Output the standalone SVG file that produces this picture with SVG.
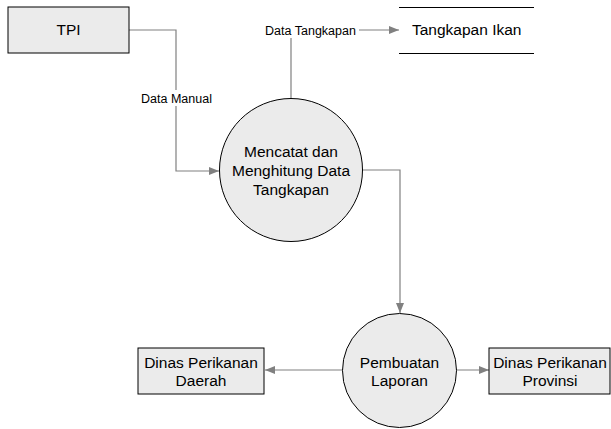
<svg xmlns="http://www.w3.org/2000/svg" width="611" height="429" viewBox="0 0 611 429">
<style>
.n{fill:#ebebeb;stroke:#000;stroke-width:1}
.t{font-family:"Liberation Sans",Arial,sans-serif;font-size:15.5px;fill:#000;text-anchor:middle}
.l{font-family:"Liberation Sans",Arial,sans-serif;font-size:12.5px;fill:#000;text-anchor:middle}
.c{fill:none;stroke:#808080;stroke-width:1.2}
.s{stroke:#000;stroke-width:1}
</style>
<defs>
<marker id="ah" viewBox="0 0 10 8" refX="10" refY="4" markerWidth="10" markerHeight="8" markerUnits="userSpaceOnUse" orient="auto">
<path d="M0,0 L10,4 L0,8 Z" fill="#808080"/>
</marker>
</defs>
<rect width="611" height="429" fill="#fff"/>
<g id="connectors">
<path class="c" d="M129,30 H176 V171 H219" marker-end="url(#ah)"/>
<rect x="139" y="90" width="75" height="16" fill="#fff"/>
<text class="l" x="176.5" y="102.5">Data Manual</text>
<path class="c" d="M291,98 V30 H399" marker-end="url(#ah)"/>
<rect x="262" y="22" width="97" height="16" fill="#fff"/>
<text class="l" x="310.5" y="34.5">Data Tangkapan</text>
<path class="c" d="M362,170 H400 V313" marker-end="url(#ah)"/>
<path class="c" d="M343,370 H265" marker-end="url(#ah)"/>
<path class="c" d="M456,370 H489" marker-end="url(#ah)"/>
</g>
<g id="tpi">
<rect class="n" x="8" y="7" width="121" height="46"/>
<text class="t" x="68.5" y="35">TPI</text>
</g>
<g id="tangkapan-ikan">
<line class="s" x1="399" y1="7.5" x2="534" y2="7.5"/>
<line class="s" x1="399" y1="53.5" x2="534" y2="53.5"/>
<text class="t" x="412" y="35" style="text-anchor:start">Tangkapan Ikan</text>
</g>
<g id="proses1">
<circle class="n" cx="291" cy="170" r="71.5"/>
<text class="t" x="291" y="156.5">Mencatat dan</text>
<text class="t" x="291" y="175.5">Menghitung Data</text>
<text class="t" x="291" y="194.5">Tangkapan</text>
</g>
<g id="proses2">
<circle class="n" cx="399.5" cy="370.5" r="57"/>
<text class="t" x="399.5" y="367.5">Pembuatan</text>
<text class="t" x="399.5" y="386">Laporan</text>
</g>
<g id="dinas-daerah">
<rect class="n" x="138" y="348" width="126" height="46"/>
<text class="t" x="201" y="367.5">Dinas Perikanan</text>
<text class="t" x="201" y="386">Daerah</text>
</g>
<g id="dinas-provinsi">
<rect class="n" x="489" y="348" width="121" height="46"/>
<text class="t" x="550" y="367.5">Dinas Perikanan</text>
<text class="t" x="550" y="386">Provinsi</text>
</g>
</svg>
